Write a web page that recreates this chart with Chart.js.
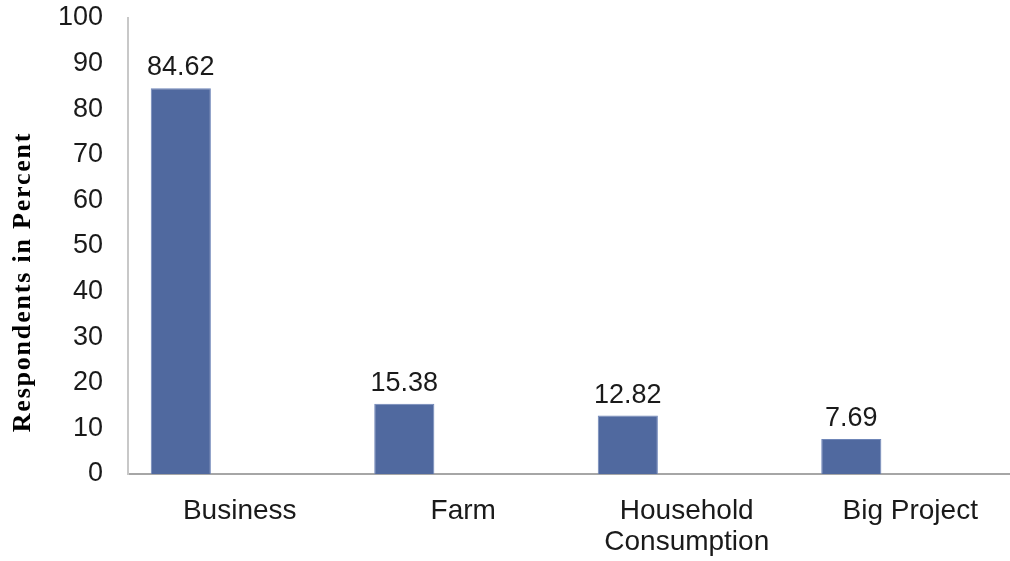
<!DOCTYPE html>
<html>
<head>
<meta charset="utf-8">
<script src="https://cdn.jsdelivr.net/npm/chart.js@4/dist/chart.umd.min.js"></script>
<style>
  html, body { margin: 0; padding: 0; background: #fff; overflow: hidden; }
  #wrap { width: 1030px; height: 561px; }
</style>
</head>
<body>
<div id="wrap"><canvas id="purposeChart" width="1030" height="561"></canvas></div>
<script>
// data
const categories = ["Business", "Farm", ["Household", "Consumption"], "Big Project"]
const respondents = [84.62, 15.38, 12.82, 7.69]
const emptySeries = [null, null, null, null] // second (blank) series, keeps bars left of centre
const yTicks = { min: 0, max: 100, step: 10 }
const yTitle = "Respondents in Percent"

const barColor = "#50699f"
const sansFont = "'Liberation Sans', Arial, sans-serif"

// value labels above each bar
const valueLabels = {
  id: "valueLabels",
  afterDatasetsDraw(chart) {
    const ctx = chart.ctx
    const meta = chart.getDatasetMeta(0)
    ctx.save()
    ctx.font = "27px " + sansFont
    ctx.fillStyle = "#1a1a1a"
    ctx.textAlign = "center"
    ctx.textBaseline = "alphabetic"
    meta.data.forEach((bar, i) => {
      ctx.fillText(respondents[i].toFixed(2), bar.x, bar.y - 13)
    })
    ctx.restore()
  },
}

// rotated y title (sits lower than the axis middle in the original)
const sideTitle = {
  id: "sideTitle",
  afterDraw(chart) {
    const ctx = chart.ctx
    ctx.save()
    ctx.translate(23, 282)
    ctx.rotate(-Math.PI / 2)
    ctx.font = "bold 26px 'Liberation Serif', 'Times New Roman', serif"
    ctx.letterSpacing = "1.8px"
    ctx.fillStyle = "#000"
    ctx.textAlign = "center"
    ctx.textBaseline = "middle"
    ctx.fillText(yTitle, 0, 0)
    ctx.restore()
  },
}

new Chart(document.getElementById("purposeChart").getContext("2d"), {
  type: "bar",
  data: {
    labels: categories,
    datasets: [
      {
        data: respondents,
        backgroundColor: barColor,
        borderColor: "#6f86b8",
        borderWidth: 1,
        categoryPercentage: 1.055,
        barPercentage: 0.51,
      },
      {
        data: emptySeries,
        backgroundColor: "#c0504d",
        categoryPercentage: 1.055,
        barPercentage: 0.51,
      },
    ],
  },
  options: {
    responsive: false,
    animation: false,
    devicePixelRatio: 1,
    layout: { padding: { top: 18, right: 8, bottom: 0, left: 0 } },
    plugins: { legend: { display: false }, tooltip: { enabled: false } },
    scales: {
      x: {
        grid: { display: false, drawTicks: false },
        border: { color: "#a6a6a6", width: 2 },
        ticks: {
          color: "#1a1a1a",
          font: { family: sansFont, size: 28, lineHeight: 1.1 },
          padding: 22,
          maxRotation: 0,
          autoSkip: false,
        },
        afterFit: (scale) => {
          scale.height = 87
          scale.paddingTop = 0
          scale.paddingBottom = 0
        },
      },
      y: {
        min: yTicks.min,
        max: yTicks.max,
        grid: { display: false, drawTicks: false },
        border: { color: "#c8c8c8", width: 2 },
        ticks: {
          stepSize: yTicks.step,
          color: "#1a1a1a",
          font: { family: sansFont, size: 27 },
          padding: 25,
        },
        afterFit: (scale) => {
          scale.width = 128
          scale.paddingTop = 0
          scale.paddingBottom = 0
        },
      },
    },
  },
  plugins: [valueLabels, sideTitle],
})
</script>
</body>
</html>
